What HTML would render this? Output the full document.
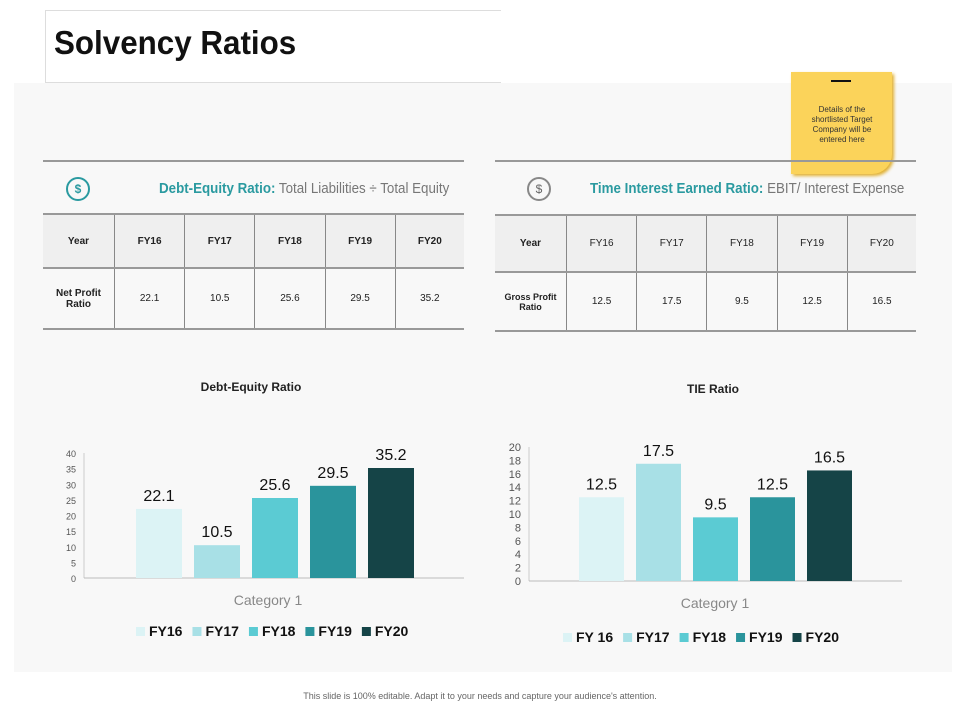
<!DOCTYPE html>
<html><head><meta charset="utf-8">
<style>
body{margin:0;width:960px;height:720px;background:#fff;font-family:"Liberation Sans",sans-serif;position:relative;overflow:hidden}
.abs{position:absolute}
table{border-collapse:collapse;position:absolute;font-size:10px;color:#222}
td{text-align:center;border-left:1px solid #888;padding:0}
td:first-child{border-left:none}
tr.h td{background:#efefef;font-weight:bold;border-top:2px solid #999;border-bottom:2px solid #999}
tr.d td{border-bottom:2px solid #999}
.tt{font-size:15px;color:#777;position:absolute;white-space:nowrap;transform:scaleX(.89);transform-origin:left}
.tt b{color:#2a9aa0}
</style></head><body>
<div class="abs" style="left:14px;top:83px;width:938px;height:589px;background:#f8f8f8"></div>
<div class="abs" style="left:45px;top:10px;width:455px;height:71px;background:#fff;border-left:1px solid #ddd;border-bottom:1px solid #ddd;border-top:1px solid #ddd"></div>
<div class="abs" style="left:54px;top:24px;font-size:33px;font-weight:bold;color:#111;transform:scaleX(.95);transform-origin:left">Solvency Ratios</div>

<div class="abs" style="left:791px;top:72px;width:101px;height:102px;background:#fbd35a;border-bottom-right-radius:20px;box-shadow:2px 2px 3px #e0b030"></div>
<div class="abs" style="left:831px;top:80px;width:20px;height:2px;background:#111"></div>
<div class="abs" style="left:802px;top:105px;width:80px;font-size:8px;line-height:10px;text-align:center;color:#333">Details of the shortlisted Target Company will be entered here</div>

<!-- table 1 -->
<div class="abs" style="left:43px;top:160px;width:421px;height:2px;background:#999"></div>
<div class="abs" style="left:66px;top:177px;width:20px;height:20px;border-radius:50%;border:2px solid #2a9aa0;color:#2a9aa0;font-size:12px;text-align:center;line-height:20px;font-weight:bold">$</div>
<div class="tt" style="left:159px;top:180px"><b>Debt-Equity Ratio:</b> Total Liabilities ÷ Total Equity</div>
<table style="left:43px;top:213px;width:421px">
<tr class="h" style="height:54px"><td style="width:71px">Year</td><td>FY16</td><td>FY17</td><td>FY18</td><td>FY19</td><td>FY20</td></tr>
<tr class="d" style="height:61px"><td style="font-weight:bold">Net Profit<br>Ratio</td><td>22.1</td><td>10.5</td><td>25.6</td><td>29.5</td><td>35.2</td></tr>
</table>

<!-- table 2 -->
<div class="abs" style="left:495px;top:160px;width:421px;height:2px;background:#999"></div>
<div class="abs" style="left:527px;top:177px;width:20px;height:20px;border-radius:50%;border:2px solid #888;color:#666;font-size:12px;text-align:center;line-height:20px">$</div>
<div class="tt" style="left:590px;top:180px"><b>Time Interest Earned Ratio:</b> EBIT/ Interest Expense</div>
<table style="left:495px;top:214px;width:421px">
<tr class="h" style="height:57px"><td style="width:71px">Year</td><td style="font-weight:normal">FY16</td><td style="font-weight:normal">FY17</td><td style="font-weight:normal">FY18</td><td style="font-weight:normal">FY19</td><td style="font-weight:normal">FY20</td></tr>
<tr class="d" style="height:59px"><td style="font-weight:bold;font-size:9px">Gross Profit<br>Ratio</td><td>12.5</td><td>17.5</td><td>9.5</td><td>12.5</td><td>16.5</td></tr>
</table>

<svg class="abs" style="left:0;top:0" width="960" height="720" id="charts"></svg>

<div class="abs" style="left:0;width:960px;top:691px;text-align:center;font-size:9px;color:#666">This slide is 100% editable. Adapt it to your needs and capture your audience's attention.</div>

<script>
const deCategories=["FY16","FY17","FY18","FY19","FY20"];
const deValues=[22.1,10.5,25.6,29.5,35.2];
const deTicks=[0,5,10,15,20,25,30,35,40];
const tieCategories=["FY 16","FY17","FY18","FY19","FY20"];
const tieValues=[12.5,17.5,9.5,12.5,16.5];
const tieTicks=[0,2,4,6,8,10,12,14,16,18,20];
const colors=["#dcf3f5","#a8e0e6","#5bcbd3","#2a949c","#154447"];
const NS="http://www.w3.org/2000/svg";
const svg=document.getElementById('charts');
function mk(tag,attrs,txt){const e=document.createElementNS(NS,tag);for(const k in attrs)e.setAttribute(k,attrs[k]);if(txt!==undefined)e.textContent=txt;svg.appendChild(e);return e;}
function chart(o){
  const y=v=>o.y0-(v/o.max)*(o.y0-o.yTop);
  const x=i=>o.x0+i*o.step;
  let t=mk('text',{x:o.titleX,y:o.titleY,'font-size':12,'font-weight':'bold','text-anchor':'middle',fill:'#222'},o.title);
  
  
  o.ticks.forEach(v=>{const l=mk('text',{x:o.axisX-8,y:y(v)+4,'font-size':o.tickSize,'text-anchor':'end',fill:'#555'},v);
    
    });
  const ax=mk('line',{x1:o.axisX,y1:o.yTop,x2:o.axisX,y2:o.y0,stroke:'#ccc'});
  
  
  const bl=mk('line',{x1:o.axisX,y1:o.y0,x2:o.axisEnd,y2:o.y0,stroke:'#bbb'});
  
  
  o.values.forEach((v,i)=>{
    const r=mk('rect',{x:x(i),y:y(v),width:o.bw,height:o.y0-y(v),fill:colors[i]});
    
    
    const lb=mk('text',{x:x(i)+o.bw/2,y:y(v)-8,'font-size':16,'text-anchor':'middle',fill:'#111'},v);
    
    
  });
  const c=mk('text',{x:o.catX,y:o.catY,'font-size':14,'text-anchor':'middle',fill:'#888'},'Category 1');
  
  
  let lx=o.legX;
  o.cats.forEach((cat,i)=>{
    const s=mk('rect',{x:lx,y:o.legY-9,width:9,height:9,fill:colors[i]});
    
    
    const tx=mk('text',{x:lx+13,y:o.legY,'font-size':14,'font-weight':'bold',fill:'#111'},cat);
    
    
    lx+=13+tx.getComputedTextLength()+10;
  });
}
chart({id:'debt-equity',title:'Debt-Equity Ratio',titleX:251,titleY:391,values:deValues,cats:deCategories,ticks:deTicks,max:40,
  y0:578,yTop:453,axisX:84,axisEnd:464,x0:136,step:58,bw:46,tickSize:9,catX:268,catY:605,legX:136,legY:636});
chart({id:'tie',title:'TIE Ratio',titleX:713,titleY:393,values:tieValues,cats:tieCategories,ticks:tieTicks,max:20,
  y0:581,yTop:447,axisX:529,axisEnd:902,x0:579,step:57,bw:45,tickSize:11,catX:715,catY:608,legX:563,legY:642});
</script>
</body></html>
